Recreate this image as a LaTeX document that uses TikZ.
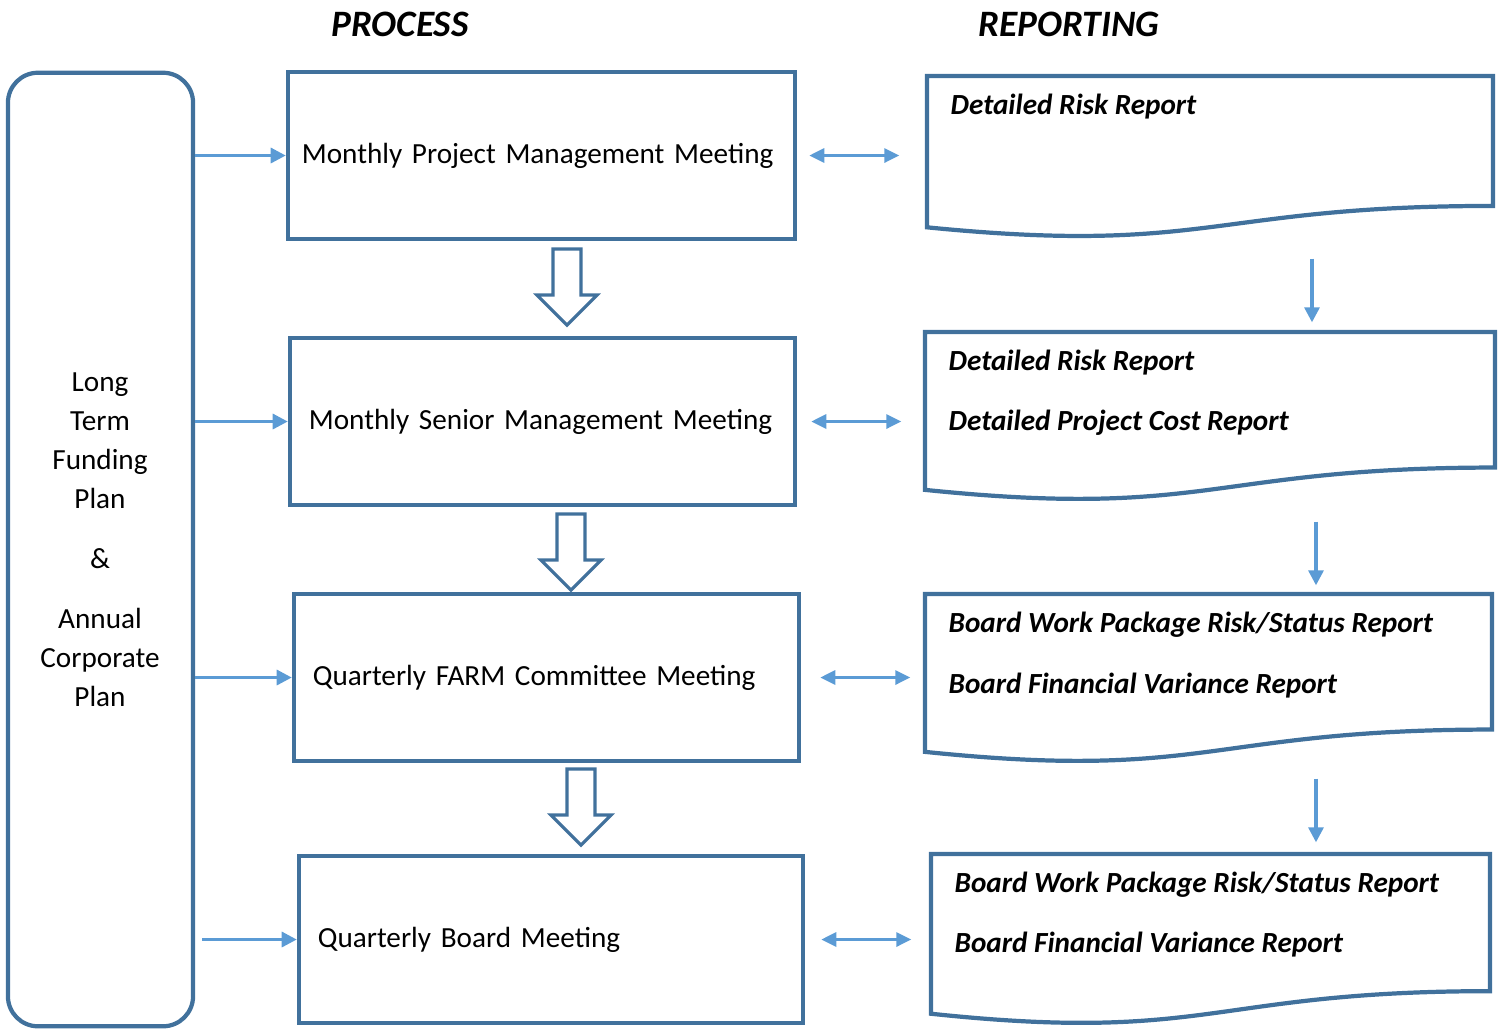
\documentclass[tikz,border=0pt]{standalone}
\usepackage{fontspec}
\setmainfont{Carlito}
\usetikzlibrary{arrows.meta,fit}

\definecolor{boxblue}{HTML}{41719C}
\definecolor{linkblue}{HTML}{5B9BD5}
\newcommand{\procfont}{\fontsize{8.3pt}{11.1pt}\selectfont}
\newcommand{\doctextfont}{\fontsize{8.3pt}{11.1pt}\selectfont\bfseries\itshape}
\newcommand{\headfont}{\fontsize{10.6pt}{12pt}\selectfont\bfseries\itshape}

\begin{document}
\begin{tikzpicture}[x=0.01cm,y=-0.01cm,
    proc/.style={draw=boxblue,line width=1.2pt,minimum height=1.67cm,inner xsep=0.19cm,align=left,font=\procfont},
    docline/.style={draw=boxblue,line width=1.2pt,line join=miter},
    doctext/.style={anchor=west,inner sep=0pt,font=\doctextfont},
    feed/.style={draw=linkblue,line width=0.9pt,-{Triangle[length=0.15cm,width=0.15cm]}},
    both/.style={draw=linkblue,line width=0.9pt,{Triangle[length=0.15cm,width=0.14cm]}-{Triangle[length=0.15cm,width=0.14cm]}},
    bigarrow/.style={draw=boxblue,line width=0.9pt,fill=white,line join=miter}]
    \useasboundingbox (0,0) rectangle (1502,1029);

    % headings
    \node[font=\headfont] (proctitle) at (400,24) {PROCESS};
    \node[font=\headfont] (reptitle) at (1069,24) {REPORTING};

    % plan on the left
    \node[draw=boxblue,line width=1.2pt,rounded corners=0.3cm,minimum width=1.85cm,minimum height=9.53cm] (plan) at (100.5,549.5) {};
    \node[align=center,font=\procfont] (plantext) at (100,540)
        {Long\\Term\\Funding\\Plan\\[6pt]\&\\[6pt]Annual\\Corporate\\Plan};

    % meetings
    \node[proc,inner xsep=0.14cm,text width=4.79cm] (p1) at (541.5,155.5) {Monthly Project Management Meeting};
    \node[proc,text width=4.67cm] (p2) at (542.5,421.5) {Monthly Senior Management Meeting};
    \node[proc,text width=4.67cm] (p3) at (546.5,677.5) {Quarterly FARM Committee Meeting};
    \node[proc,text width=4.66cm] (p4) at (551,939.5) {Quarterly Board Meeting};

    \foreach \x/\y in {567/249,571/514,581/769}{
        \draw[bigarrow] (\x-14,\y) -- (\x+14,\y) -- (\x+14,\y+46) -- (\x+30,\y+46)
            -- (\x,\y+76) -- (\x-30,\y+46) -- (\x-14,\y+46) -- cycle;
    }

    % reports
    \foreach \n/\L/\R/\T/\H in {1/927/1493/76/162,2/925/1495/332/169,3/925/1492/594/169,4/931/1490/854/171}{
        \node[fit={(\L,\T) (\R,\T+\H)},inner sep=0pt] (d\n) {};
        \draw[docline] (\L,\T) -- (\R,\T) -- (\R,\T+0.802*\H)
            .. controls ({(\L+\R)/2},\T+0.802*\H) and ({(\L+\R)/2},\T+1.1075*\H) .. (\L,\T+0.934*\H) -- cycle;
    }
    \node[doctext] (r1a) at (950,107) {Detailed Risk Report};
    \node[doctext] (r2a) at (948,363) {Detailed Risk Report};
    \node[doctext] (r2b) at (948,423) {Detailed Project Cost Report};
    \node[doctext] (r3a) at (948,625) {Board Work Package Risk/Status Report};
    \node[doctext] (r3b) at (948,686) {Board Financial Variance Report};
    \node[doctext] (r4a) at (954,885) {Board Work Package Risk/Status Report};
    \node[doctext] (r4b) at (954,945) {Board Financial Variance Report};

    % connectors
    \foreach \i in {1,2,3}{
        \draw[feed] (plan.east |- p\i.west) -- (p\i.west);
    }
    \draw[feed,shorten <=0.07cm] (plan.east |- p4.west) -- (p4.west);

    \draw[both,shorten <=0.12cm,shorten >=0.27cm] (p1.east) -- (p1.east -| d1.west);
    \draw[both,shorten <=0.14cm,shorten >=0.23cm] (p2.east) -- (p2.east -| d2.west);
    \draw[both,shorten <=0.19cm,shorten >=0.14cm] (p3.east) -- (p3.east -| d3.west);
    \draw[both,shorten <=0.16cm,shorten >=0.19cm] (p4.east) -- (p4.east -| d4.west);

    \draw[feed,shorten <=0.2cm,shorten >=0.09cm] (1312,0 |- d1.south) -- (1312,0 |- d2.north);
    \draw[feed,shorten <=0.2cm,shorten >=0.08cm] (1316,0 |- d2.south) -- (1316,0 |- d3.north);
    \draw[feed,shorten <=0.15cm,shorten >=0.11cm] (1316,0 |- d3.south) -- (1316,0 |- d4.north);
\end{tikzpicture}
\end{document}
